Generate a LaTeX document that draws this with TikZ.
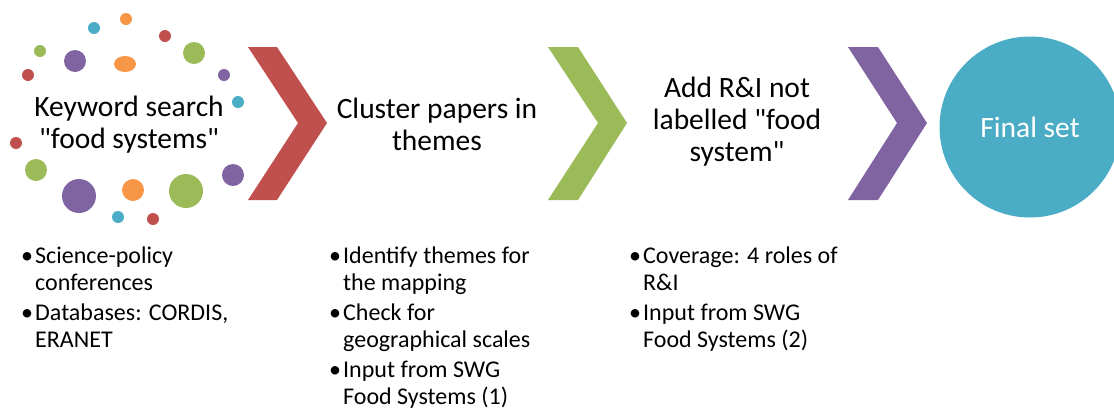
\documentclass[tikz,border=0pt]{standalone}
\usepackage{fontspec}
\setmainfont{Carlito}[Ligatures=TeXOff]
\definecolor{cred}{HTML}{C0504D}
\definecolor{cgreen}{HTML}{9BBB59}
\definecolor{cpurple}{HTML}{8064A2}
\definecolor{ccyan}{HTML}{4BACC6}
\definecolor{corange}{HTML}{F79646}
\begin{document}
\begin{tikzpicture}[x=1pt,y=-1pt,
  steplabel/.style={align=center,inner sep=0pt,font=\fontsize{29.5}{32}\selectfont},
  bulletlist/.style={anchor=base west,inner sep=0pt,font=\fontsize{24}{27}\selectfont}]
\useasboundingbox (0,0) rectangle (1114,408);
% dots
\fill[corange] (126,19) circle (6);
\fill[ccyan] (94,28) circle (6);
\fill[cred] (165,36) circle (6);
\fill[cgreen] (40,51) circle (6);
\fill[cpurple] (75,61) circle (11);
\fill[corange] (125,64) ellipse (11 and 8);
\fill[cgreen] (194,53) circle (11);
\fill[cred] (28,75) circle (6);
\fill[cpurple] (224,75) circle (6);
\fill[ccyan] (238,102) circle (6);
\fill[cred] (16,143) circle (6);
\fill[cgreen] (36,170) circle (11);
\fill[cpurple] (233,175) circle (11);
\fill[cpurple] (79,196) circle (17);
\fill[corange] (133,190) circle (11);
\fill[cgreen] (186,191) circle (17);
\fill[ccyan] (118,217) circle (6);
\fill[cred] (153,219) circle (6);
% chevrons
\fill[cred] (248,47) -- (277,47) -- (327,123) -- (277,200) -- (248,200) -- (298,123) -- cycle;
\fill[cgreen] (548,47) -- (578,47) -- (627,123) -- (578,200) -- (548,200) -- (598,123) -- cycle;
\fill[cpurple] (848,47) -- (878,47) -- (927,123) -- (878,200) -- (848,200) -- (897,123) -- cycle;
% final circle
\node[circle,fill=ccyan,minimum size=181pt,inner sep=0pt,text=white,font=\fontsize{29.5}{32}\selectfont] (final) at (1030,127) {Final set};
% step labels
\node[steplabel] (kw) at (129,125) {Keyword search\\"food systems"};
\node[steplabel] (cl) at (437,124) {Cluster papers in\\themes};
\node[steplabel] (add) at (737,122) {Add R\&I not\\labelled "food\\system"};
% bullet lists
\node[bulletlist] (b1) at (21,263) {\begin{tabular}[t]{@{}p{14pt}@{}l@{}}
\textbullet & Science-policy\\ & conferences\\[3pt]
\textbullet & Databases: CORDIS,\\ & ERANET\end{tabular}};
\node[bulletlist] (b2) at (329,263) {\begin{tabular}[t]{@{}p{14pt}@{}l@{}}
\textbullet & Identify themes for\\ & the mapping\\[3pt]
\textbullet & Check for\\ & geographical scales\\[3pt]
\textbullet & Input from SWG\\ & Food Systems (1)\end{tabular}};
\node[bulletlist] (b3) at (629,263) {\begin{tabular}[t]{@{}p{14pt}@{}l@{}}
\textbullet & Coverage: 4 roles of\\ & R\&I\\[3pt]
\textbullet & Input from SWG\\ & Food Systems (2)\end{tabular}};
\end{tikzpicture}
\end{document}
